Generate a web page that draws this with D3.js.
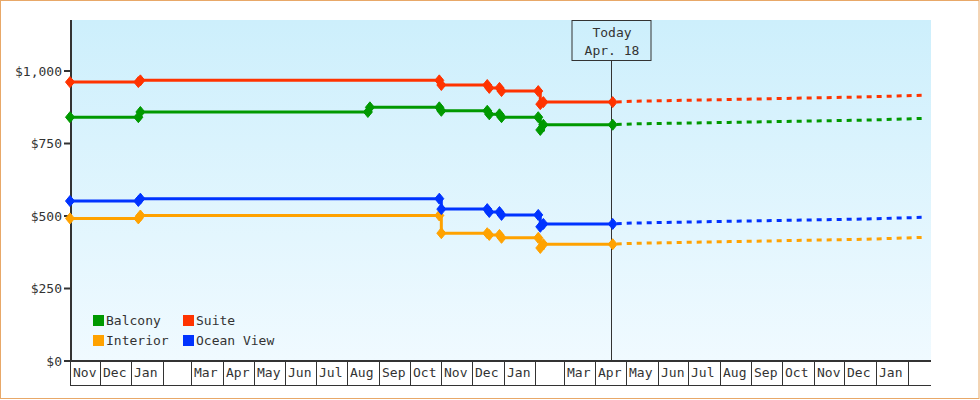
<!DOCTYPE html>
<html>
<head>
<meta charset="utf-8">
<script src="https://cdn.jsdelivr.net/npm/d3@7"></script>
<style>
  html, body { margin: 0; padding: 0; background: #fff; }
  svg { display: block; }
  text { font-family: "DejaVu Sans Mono", monospace; font-size: 13px; fill: #333; }
</style>
</head>
<body>
<svg id="chart" width="980" height="400"></svg>
<script>
// ---------- DATA ----------
const seriesNames = ["Balcony", "Suite", "Interior", "Ocean View"];
const seriesColors = ["#009900", "#ff3300", "#ffa200", "#0033ff"];

// Observed price dates (null value = no observation for that series)
const obsDates = ["2017-11-02", "2018-01-08", "2018-01-10", "2018-08-21", "2018-08-23",
  "2018-10-30", "2018-11-01", "2018-12-16", "2018-12-18", "2018-12-28", "2018-12-30",
  "2019-02-04", "2019-02-06", "2019-02-09", "2019-04-18"];
const balconyPrices  = [839, 839, 857, 857, 873, 873, 861, 861, 849, 849, 839, 839, 795, 813, 813];
const suitePrices    = [960, 960, 966, null, null, 966, 950, 950, 940, 940, 929, 929, 884, 891, 891];
const interiorPrices = [490, 490, 500, null, null, 500, 439, 439, 433, 433, 423, 423, 388, 401, 401];
const oceanPrices    = [550, 550, 558, null, null, 558, 522, 522, 512, 512, 502, 502, 461, 471, 471];

// Predicted prices (dashed)
const predDates = ["2019-04-18", "2019-05-08", "2019-08-10", "2019-12-22", "2020-02-19"];
const balconyPred  = [813, 816, 821, 829, 835];
const suitePred    = [891, 894, 900, 909, 915];
const interiorPred = [401, 404, 410, 418, 425];
const oceanPred    = [471, 474, 480, 488, 494];

const yTicks = [0, 250, 500, 750, 1000];
const monthLabels = ["Jan", "", "Mar", "Apr", "May", "Jun", "Jul", "Aug", "Sep", "Oct", "Nov", "Dec"];
const todayDate = "2019-04-17";
const todayLabel = ["Today", "Apr. 18"];
const domainStart = "2017-11-02";
const domainEnd = "2020-02-24";

// ---------- CHART ----------
const parse = d3.timeParse("%Y-%m-%d");
const svg = d3.select("#chart");
const plotTop = 20, plotBottom = 360, plotLeft = 70, plotRight = 931;

const x = d3.scaleTime().domain([parse(domainStart), parse(domainEnd)]).range([plotLeft, plotRight]);
const y = d3.scaleLinear().domain([0, 1000]).range([360.5, 70.5]);

// outer border
svg.append("rect").attr("x", 0.5).attr("y", 0.5).attr("width", 978.5).attr("height", 398)
  .attr("fill", "#fff").attr("stroke", "#e8a868").attr("stroke-width", 1);

// gradient background
const defs = svg.append("defs");
const grad = defs.append("linearGradient").attr("id", "bg").attr("x1", 0).attr("y1", 0).attr("x2", 0).attr("y2", 1);
grad.append("stop").attr("offset", "0%").attr("stop-color", "#cdeffc");
grad.append("stop").attr("offset", "100%").attr("stop-color", "#f0faff");
svg.append("rect").attr("x", plotLeft).attr("y", plotTop)
  .attr("width", plotRight - plotLeft).attr("height", plotBottom - plotTop)
  .attr("fill", "url(#bg)");

// y axis
const yAxis = d3.axisLeft(y).tickValues(yTicks).tickSize(6).tickSizeOuter(0)
  .tickFormat(d => "$" + d3.format(",")(d));
const yg = svg.append("g").attr("transform", `translate(${plotLeft},0)`).call(yAxis);
yg.select(".domain").remove();
yg.selectAll(".tick line").attr("stroke", "#333").attr("stroke-width", 2);
yg.selectAll(".tick text").attr("x", -8).attr("dy", "0.35em").style("font-size", "13px")
  .attr("fill", "#333").attr("font-family", "DejaVu Sans Mono");
svg.append("line").attr("x1", plotLeft + 1).attr("x2", plotLeft + 1)
  .attr("y1", plotTop).attr("y2", plotBottom + 1).attr("stroke", "#333").attr("stroke-width", 2);

// x axis: month cells
const xd0 = x.domain()[0], xd1 = x.domain()[1];
const monthStarts = d3.timeMonth.range(d3.timeMonth.ceil(xd0), xd1);
const cellStarts = [xd0].concat(monthStarts);
svg.append("line").attr("x1", plotLeft).attr("x2", plotRight)
  .attr("y1", plotBottom + 1).attr("y2", plotBottom + 1).attr("stroke", "#333").attr("stroke-width", 2);
svg.append("line").attr("x1", plotLeft).attr("x2", plotRight)
  .attr("y1", 385.5).attr("y2", 385.5).attr("stroke", "#333").attr("stroke-width", 1);
svg.append("line").attr("x1", plotLeft + 0.5).attr("x2", plotLeft + 0.5)
  .attr("y1", plotBottom).attr("y2", 385.5).attr("stroke", "#333");
const xg = svg.append("g");
xg.selectAll("line.div").data(monthStarts).join("line")
  .attr("class", "div")
  .attr("x1", d => Math.round(x(d)) + 0.5).attr("x2", d => Math.round(x(d)) + 0.5)
  .attr("y1", plotBottom).attr("y2", 385.5).attr("stroke", "#333");
xg.selectAll("text").data(cellStarts).join("text")
  .attr("x", d => Math.round(x(d)) + 3).attr("y", 377)
  .text(d => monthLabels[d3.timeMonth.floor(d).getMonth()]);

// today marker
const tx = Math.floor(x(parse(todayDate))) + 0.5;
svg.append("line").attr("x1", tx).attr("x2", tx).attr("y1", 60).attr("y2", plotBottom)
  .attr("stroke", "#333").attr("stroke-width", 1);
svg.append("rect").attr("x", tx - 39.5).attr("y", 20.5).attr("width", 79).attr("height", 40)
  .attr("fill", "none").attr("stroke", "#333");
svg.append("text").attr("x", tx + 0.5).attr("y", 37).attr("text-anchor", "middle").text(todayLabel[0]);
svg.append("text").attr("x", tx + 0.5).attr("y", 55).attr("text-anchor", "middle").text(todayLabel[1]);

// series
const hist = [balconyPrices, suitePrices, interiorPrices, oceanPrices];
const preds = [balconyPred, suitePred, interiorPred, oceanPred];
const drawOrder = [2, 3, 0, 1];

const stepLine = d3.line().x(d => x(d.date)).y(d => y(d.v)).curve(d3.curveStepAfter);
const predLine = d3.line().x(d => x(d.date)).y(d => y(d.v));
const diamond = "M0,-5.5L4.5,0L0,5.5L-4.5,0Z";

drawOrder.forEach(i => {
  const pts = obsDates.map((d, k) => ({ date: parse(d), v: hist[i][k] })).filter(p => p.v != null);
  const pp = predDates.map((d, k) => ({ date: parse(d), v: preds[i][k] }));
  svg.append("path").datum(pp).attr("d", predLine).attr("fill", "none")
    .attr("stroke", seriesColors[i]).attr("stroke-width", 3).attr("stroke-dasharray", "5,5")
    .attr("stroke-dashoffset", -4);
  svg.append("path").datum(pts).attr("d", stepLine).attr("fill", "none")
    .attr("stroke", seriesColors[i]).attr("stroke-width", 3);
  svg.append("g").selectAll("path").data(pts).join("path")
    .attr("d", diamond)
    .attr("transform", p => `translate(${x(p.date)},${y(p.v)})`)
    .attr("fill", seriesColors[i])
    .attr("stroke", seriesColors[i]).attr("stroke-width", 1).attr("stroke-linejoin", "round");
});

// legend
const legendPos = [[93, 315], [183, 315], [93, 335], [183, 335]];
const lg = svg.append("g");
seriesNames.forEach((name, i) => {
  const [lx, ly] = legendPos[i];
  lg.append("rect").attr("x", lx).attr("y", ly).attr("width", 11).attr("height", 11).attr("fill", seriesColors[i]);
  lg.append("text").attr("x", lx + 13).attr("y", ly + 10).text(name);
});
</script>
</body>
</html>
